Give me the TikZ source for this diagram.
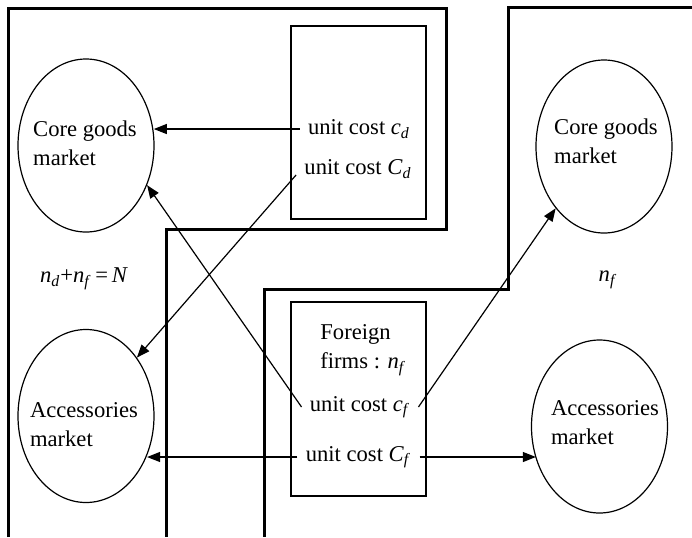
\documentclass[tikz,border=0pt]{standalone}
\usepackage{fontspec}
\setmainfont{Liberation Serif}
\usetikzlibrary{arrows.meta,shapes.geometric}
\newcommand\vsub[2]{\textit{#1}\textsubscript{\textit{#2}}}
\begin{document}
\begin{tikzpicture}[x=0.5pt,y=-0.5pt,
  font=\fontsize{11.3}{14.5}\selectfont,
  wall/.style={line width=1.5pt, line join=miter},
  firmbox/.style={draw, line width=0.85pt, inner sep=0pt, minimum width=67.5pt},
  market/.style={draw, ellipse, line width=0.6pt, minimum width=68pt, minimum height=86.5pt, inner sep=0pt},
  mtext/.style={align=left, inner sep=0pt},
  cost/.style={inner xsep=4pt, inner ysep=1pt},
  arr/.style={-{Triangle[length=6.5pt,width=5pt]}, line width=0.6pt}]
\useasboundingbox (0,0) rectangle (692,537);
% region walls
\draw[wall] (8,537) -- (8,8) -- (446,8) -- (446,229) -- (166,229) -- (166,537);
\draw[wall] (692,7) -- (508,7) -- (508,289) -- (264,289) -- (264,537);
% firm boxes
\node[firmbox, minimum height=96.5pt] (dbox) at (358.5,122.5) {};
\node[firmbox, minimum height=97pt] (fbox) at (358.5,399) {};
% markets
\node[market] (dcore) at (86,145.5) {};
\node[mtext] (dcoret) at (85,143.5) {Core goods\\market};
\node[market] (dacc) at (86,416) {};
\node[mtext] (dacct) at (84,424.5) {Accessories\\market};
\node[market] (fcore) at (604,146.5) {};
\node[mtext] (fcoret) at (606,141.5) {Core goods\\market};
\node[market] (facc) at (599.5,426.5) {};
\node[mtext] (facct) at (605,423) {Accessories\\market};
% region labels
\node[inner sep=0pt] (dn) at (84,279) {\vsub{n}{d}+\vsub{n}{f}\,=\,\textit{N}};
\node[inner sep=0pt] (fn) at (608,280) {\vsub{n}{f}};
% firm texts
\node[mtext, anchor=west] (ftxt) at (320,350) {Foreign\\firms : \vsub{n}{f}};
\node[cost] (cd) at (359,129) {unit cost \vsub{c}{d}};
\node[cost] (Cd) at (358,169) {unit cost \vsub{C}{d}};
\node[cost] (cf) at (360,407) {unit cost \vsub{c}{f}};
\node[cost] (Cf) at (358.5,457) {unit cost \vsub{C}{f}};
% connectors
\draw[arr] (cd.west) -- (dcore.11 |- cd.west);
\draw[arr] ([yshift=-3pt]Cd.west) -- (dacc);
\draw[arr] (cf.west) -- (dcore.-33);
\draw[arr] (cf.east) -- (fcore.232);
\draw[arr] (Cf.west) -- (dacc.-33.5 |- Cf.west);
\draw[arr] (Cf.east) -- (facc.207.4 |- Cf.east);
\end{tikzpicture}
\end{document}
